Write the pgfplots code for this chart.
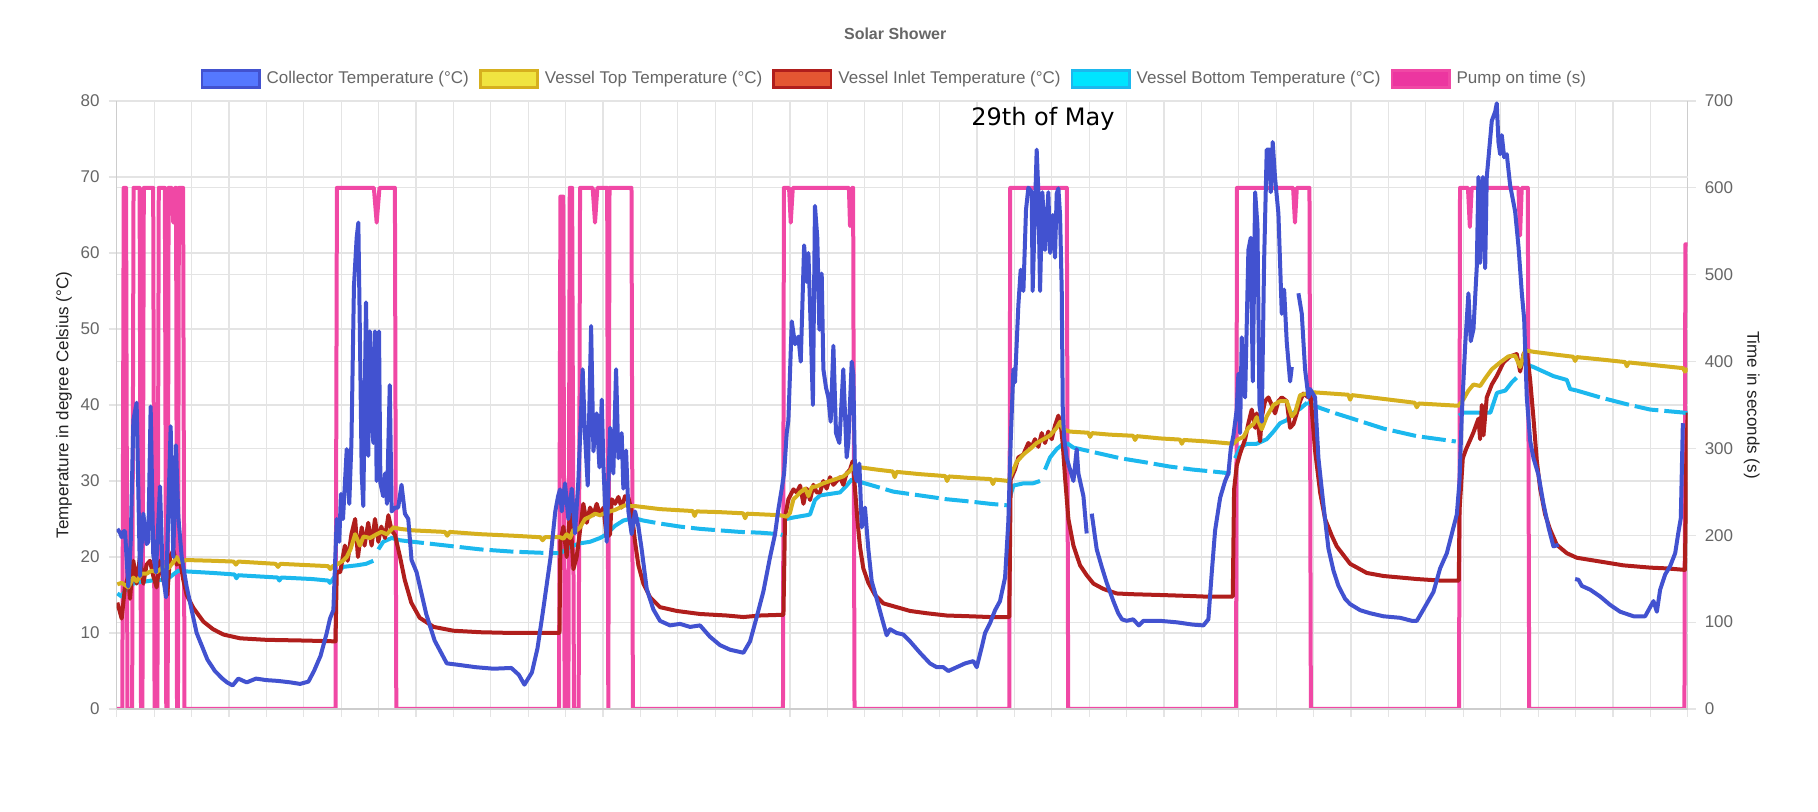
\documentclass[border=0pt]{standalone}
\usepackage{pgfplots}
\pgfplotsset{compat=1.18}
\usepackage{fontspec}
\setmainfont{Liberation Sans}
\newfontfamily\annofont{DejaVu Sans}
\definecolor{cBlue}{RGB}{66,82,208}
\definecolor{cBlueL}{RGB}{85,120,255}
\definecolor{cYel}{RGB}{214,176,30}
\definecolor{cYelL}{RGB}{240,228,64}
\definecolor{cRed}{RGB}{176,30,28}
\definecolor{cRedL}{RGB}{228,86,50}
\definecolor{cCyan}{RGB}{28,184,238}
\definecolor{cCyanL}{RGB}{0,228,255}
\definecolor{cPink}{RGB}{240,72,165}
\definecolor{cPinkL}{RGB}{236,54,160}
\definecolor{gridc}{RGB}{228,228,228}
\definecolor{axc}{RGB}{205,205,205}
\definecolor{tickc}{RGB}{102,102,102}
\definecolor{labc}{RGB}{34,34,34}
\newcommand\tfont{\fontsize{8.5}{10}\selectfont}
\pgfplotsset{
  base/.style={
    at={(58.35pt,51.5pt)}, anchor=south west,
    width=785.5pt, height=304pt, scale only axis,
    xmin=0, xmax=168, xtick={0,4,...,168}, xticklabels={},
    tick align=outside, major tick length=4pt,
    tick style={gridc, line width=0.6pt},
    axis line style={axc, line width=0.7pt},
    ticklabel style={font=\tfont, text=tickc},
    /pgf/number format/assume math mode=true,
    unbounded coords=jump,
    label style={font=\tfont, text=labc},
  }
}
\begin{document}
\begin{tikzpicture}
\path[use as bounding box] (0,0) rectangle (909pt,406pt);
% ---------------- pump axis (right) ----------------
\begin{axis}[base,
  ymin=0, ymax=700, ytick={0,100,...,700},
  axis y line*=right, axis x line*=bottom,
  grid=major, major grid style={gridc, line width=0.6pt},
  extra y ticks={87.5,175,262.5,350,437.5,525,612.5},
  extra y tick labels={},
  extra y tick style={grid=major, major tick length=0pt},
  yticklabel shift=1pt,
  ylabel={Time in seconds (s)},
  ylabel style={at={(axis description cs:1.0407,0.5)}, anchor=center, rotate=180},
]
\addplot[cPink, line width=2pt, line join=round] coordinates {
(0,0)(0.6,0)(0.75,600)(1.0,600)(1.15,0)(1.65,0)(1.8,600)(2.45,600)(2.6,0)(2.75,0)(2.9,600)(3.9,600)(4.05,0)(4.35,0)(4.5,600)(5.15,600)(5.3,0)(5.45,0)(5.55,600)(5.9,600)(6.05,560)(6.2,600)(6.35,600)(6.45,0)(6.55,0)(6.65,600)(7.1,600)(7.25,0)
(23.4,0)(23.55,600)(27.5,600)(27.8,560)(28.1,600)(29.75,600)(29.9,0)
(47.3,0)(47.45,590)(47.75,590)(47.9,0)(48.3,0)(48.45,600)(48.7,600)(48.9,0)(49.4,0)(49.55,600)(50.9,600)(51.15,560)(51.4,600)(52.45,600)(52.57,0)(52.7,600)(55.05,600)(55.2,0)
(71.25,0)(71.35,600)(71.9,600)(72.08,560)(72.3,600)(78.3,600)(78.42,556)(78.6,600)(78.75,600)(78.9,0)
(95.45,0)(95.55,600)(101.6,600)(101.75,0)
(119.7,0)(119.8,600)(125.8,600)(126.0,560)(126.2,600)(127.55,600)(127.7,0)
(143.55,0)(143.65,600)(144.5,600)(144.7,555)(144.9,600)(149.9,600)(150.07,545)(150.25,600)(150.9,600)(151.05,0)
(167.65,0)(167.75,535)(168,535)
};
\end{axis}
% ---------------- temperature axis (left) ----------------
\begin{axis}[base,
  ymin=0, ymax=80, ytick={0,10,...,80},
  axis y line*=left, axis x line*=bottom,
  yticklabel shift=1pt,
  ylabel={Temperature in degree Celsius (°C)},
  ylabel style={at={(axis description cs:-0.0336,0.5)}, anchor=center},
  legend style={at={(0.4956,1.0362)}, anchor=center, draw=none, fill=none,
    font=\tfont, text=tickc, legend columns=5,
    /tikz/every odd column/.append style={column sep=1pt},
    /tikz/every even column/.append style={column sep=3pt}},
]
% Vessel Bottom (solid parts)
\addplot[cCyan, line width=2pt, line join=round, forget plot] coordinates {
(0.07,15.2)(0.53,14.8)(1.07,16)(1.78,16.5)(2.49,16.7)(3.2,16.8)(4.27,17)(5.34,17)(6.05,17.7)(6.59,18.2)(7.48,18.1)(10.3,17.9)(12.6,17.7)(12.8,17.2)(13.0,17.6)(17.2,17.3)(17.4,16.9)(17.6,17.3)(20.9,17.1)(22.6,16.9)(22.8,16.6)(23.0,16.9)(23.53,17.8)(24.2,18.7)(25.66,18.9)(26.66,19.1)(27.44,19.5)(27.6,nan)(27.98,21)(28.5,22)(29.4,22.5)(30.3,22.2)(30.5,nan)
(47.41,20.5)(48.12,21)(48.84,21.5)(49.55,21.8)(50.62,22)(51.69,22.5)(52.4,23)(53.29,24.1)(54.18,24.8)(54.89,25)(55.1,25.2)(55.3,nan)
(71.6,25)(72.37,25.2)(73.79,25.5)(74.14,25.6)(74.67,27.5)(75.21,28.1)(76.28,28.3)(77.35,28.5)(78.06,29.4)(78.6,30.2)(79.13,30)(79.3,nan)
(95.55,28)(95.89,29.4)(97.0,29.7)(98.0,29.7)(98.74,30)(99.0,nan)(99.27,31.5)(99.81,33.1)(100.52,34.2)(101.2,34.9)(101.6,35.0)(101.8,nan)
(119.6,33)(120.13,34.4)(120.84,34.9)(121.91,34.9)(122.98,35.5)(123.7,36.5)(124.4,37.6)(125.12,38)(125.84,39)(126.55,39.5)(127.3,40.3)(127.5,nan)
(143.55,38.6)(144.0,39)(146.9,39)(147.6,41.6)(148.5,41.9)(149.2,43)(149.7,43.6)(149.9,nan)(150.26,45.6)(150.8,45.3)(151.5,45)(153.64,43.8)(155.07,43.3)(155.43,42.1)(156.14,41.9)
};
% Vessel Bottom (parts with gaps in the data)
\addplot[cCyan, line width=2pt, dash pattern=on 12pt off 3pt, forget plot] coordinates {
(30.3,22.2)(31.7,22.0)(35.3,21.5)(38.9,21.0)(42.4,20.7)(46.6,20.5)(47.41,20.5)(47.5,nan)
(55.1,25.2)(56.3,24.8)(58.1,24.4)(60.24,24.0)(62.38,23.7)(64.52,23.5)(66.66,23.3)(68.8,23.2)(70.9,23.0)(71.2,22.9)(71.3,nan)
(79.13,30)(80.56,29.5)(83.05,28.6)(85.9,28.1)(88.76,27.6)(91.25,27.3)(93.39,27)(95.2,26.8)(95.3,nan)
(101.6,35)(102.3,34.4)(104.45,33.8)(107.3,33)(109.8,32.5)(112.6,31.9)(115.1,31.5)(117.6,31.2)(119.1,31)(119.2,nan)
(127.3,40.3)(128.7,39.6)(130.1,39)(131.9,38.3)(135.46,36.9)(139.03,35.9)(143.2,35.2)(143.3,nan)
(156.14,41.9)(158.64,41)(161.49,40.1)(163.98,39.4)(167.55,39)(168,38.9)
};
% Vessel Inlet
\addplot[cRed, line width=2pt, line join=round, forget plot] coordinates {
(0.07,14)(0.53,11.9)(0.89,16.1)(1.24,17.5)(1.42,14.5)(1.78,19.5)(2.13,16.5)(2.49,20.1)(2.85,16.5)(3.2,19)(3.56,19.5)(3.91,17.5)(4.27,16)(4.63,19.5)(4.99,17)(5.41,15)(5.7,20)(6.05,20.9)(6.41,19)(6.77,19.5)(7.12,17)(7.48,15)(8.2,13.3)(9.27,11.5)(10.3,10.5)(11.4,9.8)(13.2,9.3)(16.0,9.1)(20.3,9.0)(23.4,8.9)
(23.53,18)(23.9,18)(24.4,21.5)(24.7,19.5)(25.1,23)(25.5,25)(25.8,20)(26.2,23.9)(26.5,21.5)(26.9,24.5)(27.26,21.5)(27.62,25)(27.98,22)(28.3,24)(28.7,22.5)(29.05,25.5)(29.4,23.5)(29.76,22.9)(30.3,20)(30.8,17)(31.5,14)(32.4,12)(33.9,10.8)(36.0,10.3)(38.9,10.1)(42.4,10.0)(47.35,10.0)
(47.45,22)(47.77,24)(48.12,20)(48.48,26)(48.84,18.4)(49.19,20)(49.55,23.5)(49.9,27)(50.26,24.5)(50.62,26.5)(50.98,25.5)(51.33,27)(51.69,25.5)(52.05,26.5)(52.4,22.6)(52.76,23)(52.94,27.6)(53.29,27)(53.65,27.9)(54.0,26.5)(54.36,28)(54.72,27.8)(55.07,26)(55.43,22)(55.79,18.9)(56.32,16.5)(57.04,14.7)(58.1,13.4)(59.89,12.9)(62.38,12.5)(65.24,12.3)(67.02,12.1)(68.8,12.3)(71.3,12.4)
(71.47,25.2)(71.83,27.6)(72.37,28.9)(72.72,28.5)(73.08,29.4)(73.44,27)(73.79,29)(74.15,27.5)(74.5,29.5)(74.85,28.5)(75.21,28.5)(75.57,30)(75.92,29)(76.28,30.5)(76.64,29.5)(77.0,30)(77.35,30.5)(77.7,29.5)(78.06,31)(78.42,31.5)(78.7,32.6)(78.95,29)(79.2,25)(79.49,21.3)(79.84,18.5)(80.38,16.6)(81.09,15)(81.98,13.9)(83.41,13.4)(84.84,12.9)(86.62,12.6)(88.76,12.3)(91.25,12.2)(93.39,12.1)(95.45,12.1)
(95.6,30.2)(96.06,31.5)(96.42,33.1)(96.96,33.5)(97.49,35)(97.85,34.5)(98.2,35.5)(98.56,34.5)(98.92,36.3)(99.27,35)(99.63,36.5)(99.99,35.5)(100.34,37.3)(100.7,38.6)(100.95,37.5)(101.16,35)(101.41,30.5)(101.77,25)(102.31,21.5)(103.02,18.9)(103.73,17.6)(104.45,16.5)(105.51,15.8)(106.94,15.2)(108.72,15.1)(111.58,15)(114.07,14.9)(116.21,14.8)(119.35,14.8)
(119.49,28.9)(119.77,32)(120.13,33.6)(120.67,35.5)(121.02,37.6)(121.38,39.4)(121.74,37)(121.91,38.9)(122.27,35.2)(122.45,38.4)(122.8,40.5)(123.16,41)(123.52,40)(123.87,38.9)(124.23,40.5)(124.59,41)(125.12,40.5)(125.48,37)(125.84,37.5)(126.19,38.9)(126.55,40.5)(126.9,41.5)(127.44,41)(127.62,42)(128.15,34)(128.69,28.5)(129.22,25)(129.94,22.8)(130.47,21.4)(131.9,19.1)(133.68,17.9)(135.46,17.5)(137.25,17.3)(139.03,17.1)(141.52,16.9)(143.52,16.9)
(143.6,26.2)(143.95,33)(144.3,34.2)(144.7,35.3)(145.09,36.4)(145.44,37.6)(145.62,38.2)(145.8,35.5)(145.98,40)(146.16,36)(146.51,41)(147.05,42.7)(147.58,43.8)(148.3,45.6)(149.01,46.4)(149.72,46.7)(150.08,44.4)(150.44,46.7)(150.79,47.2)(151.15,43.3)(151.51,38.2)(151.86,32.7)(152.22,29)(152.75,25.6)(153.29,23.6)(154.0,21.6)(155.07,20.5)(156.14,19.9)(158.64,19.4)(161.13,18.9)(164.0,18.6)(165.77,18.5)(167.7,18.3)(167.85,33)(168,39)
};
% Vessel Top
\addplot[cYel, line width=2pt, line join=round, forget plot] coordinates {
(0.07,16.4)(0.53,16.6)(1.24,16)(1.78,17.3)(2.13,16.8)(2.67,17.8)(3.2,17.8)(3.74,18.2)(4.27,18)(4.99,18.7)(5.52,18.5)(6.05,19.3)(6.41,20)(6.77,19.3)(7.48,19.6)(10.3,19.5)(12.5,19.4)(12.75,19.0)(13.0,19.4)(17.0,19.1)(17.25,18.7)(17.5,19.1)(20.9,18.9)(22.6,18.8)(22.85,18.4)(23.1,18.8)
(23.53,19)(24.2,19.5)(24.6,20)(25.0,21)(25.5,23)(26.0,21.5)(26.4,22.7)(27.1,22.5)(27.8,23)(28.3,23.3)(28.9,23)(29.6,23.9)(30.3,23.7)(31.7,23.5)(35.1,23.3)(35.35,22.8)(35.6,23.3)(38.9,23.0)(42.4,22.8)(45.3,22.6)(45.55,22.2)(45.8,22.6)
(47.41,22.6)(47.77,22.4)(48.12,23)(48.48,22.5)(48.84,23.6)(49.19,23.5)(49.55,23.9)(50.08,25)(50.62,25.3)(51.15,25.7)(51.69,25.5)(52.22,25.8)(52.76,26)(53.29,26.2)(53.82,26.5)(54.36,26.8)(54.89,26.7)(55.43,26.7)(58.1,26.3)(61.6,26.05)(61.8,25.4)(62.0,26.0)(64.5,25.9)(67.0,25.75)(67.2,25.1)(67.4,25.7)(70.9,25.5)(71.65,25.3)
(72.0,25.8)(72.37,27.6)(72.72,28)(73.08,28.5)(73.62,29)(73.97,28)(74.33,29.2)(74.85,29.3)(75.57,29.7)(76.28,30)(77.0,30.3)(77.7,30.6)(78.42,31.3)(78.77,32)(79.49,31.8)(81.27,31.5)(83.0,31.25)(83.2,30.5)(83.4,31.2)(85.9,30.9)(88.6,30.65)(88.8,30.0)(89.0,30.6)(91.25,30.4)(93.5,30.25)(93.7,29.6)(93.9,30.2)(95.35,30)
(95.71,31)(96.24,32.5)(96.96,33.5)(97.67,34.2)(98.38,35)(99.1,35.5)(99.81,36)(100.52,37)(100.88,37.8)(101.2,36.8)(101.95,36.5)(103.9,36.35)(104.1,35.8)(104.3,36.3)(106.2,36.1)(108.7,35.95)(108.9,35.4)(109.1,35.9)(111.6,35.6)(113.7,35.45)(113.9,34.9)(114.1,35.4)(116.6,35.2)(119.4,34.9)
(119.95,35.5)(120.49,35.8)(121.02,37)(121.56,37.5)(121.91,38.4)(122.45,36.8)(122.98,38.5)(123.7,40)(124.4,40.5)(125.12,40.5)(125.66,38.5)(126.01,39)(126.55,41.3)(127.26,41.5)(127.62,41.7)(131.7,41.35)(131.9,40.7)(132.1,41.3)(135.46,40.8)(138.8,40.3)(139.03,39.7)(139.25,40.2)(143.48,39.9)
(143.99,40.7)(144.55,41.9)(145.09,42.7)(145.8,42.5)(146.34,43.5)(147.05,44.7)(147.94,45.6)(148.83,46.4)(149.54,46.5)(150.08,45)(150.61,47.2)(151.51,47)(154.07,46.6)(155.75,46.35)(155.96,45.8)(156.15,46.3)(158.64,46.0)(161.3,45.65)(161.49,45.1)(161.7,45.6)(164,45.3)(167.5,44.85)(167.7,44.4)(168,44.8)
};
% Collector
\addplot[cBlue, line width=2pt, line join=round, forget plot] coordinates {
(0.07,23.7)(0.35,23.2)(0.53,22.6)(0.75,23.4)(0.89,23.4)(1.24,16.1)(1.5,22)(1.78,38)(2.13,40.3)(2.49,17.5)(2.85,25.7)(3.2,21.7)(3.38,22)(3.63,39.8)(3.91,20.3)(4.2,18)(4.63,29.3)(4.91,18)(5.27,14.7)(5.77,37.2)(6.05,20)(6.34,34.7)(6.59,25.3)(6.95,20)(7.48,16.1)(8.02,13)(8.55,10)(9.7,6.5)(10.5,5)(11.3,4)(11.8,3.5)(12.4,3.1)(13.0,4)(13.9,3.5)(14.9,4)(16.0,3.8)(17.2,3.7)(18.6,3.5)(19.6,3.3)(20.5,3.6)(21.1,5)(21.8,7)(22.46,10)(22.81,11.9)(23.17,13)
(23.53,25)(23.8,22)(23.98,28.3)(24.2,25)(24.6,34.2)(24.87,27)(25.1,35)(25.37,55.6)(25.66,62)(25.84,64)(26.0,50)(26.2,31)(26.37,26.7)(26.66,53.5)(26.9,33.3)(27.08,49.7)(27.44,35)(27.62,49.7)(27.8,30)(28.05,49.7)(28.2,29.7)(28.5,28)(28.7,31)(28.9,27)(29.2,42.6)(29.4,26)(29.76,26.5)(30.1,26.5)(30.46,29.5)(30.82,25.7)(31.18,25)(31.53,19.6)(32.07,18)(33.1,12.5)(34.0,9)(35.3,6)(36.6,5.8)(38.4,5.5)(40.3,5.3)(42.2,5.4)(43.0,4.5)(43.6,3.2)(44.4,4.8)(45.0,8)(45.6,13)(46.4,20)(46.9,26)(47.2,28)
(47.41,28.9)(47.59,26)(47.94,29.7)(48.3,25)(48.66,29)(49.01,23.1)(49.37,30)(49.83,44.7)(50.08,36)(50.37,29.4)(50.73,50.4)(50.98,33.9)(51.33,38.9)(51.62,31.8)(51.87,40.7)(52.05,32)(52.4,22)(52.76,37)(53.11,31)(53.4,44.7)(53.65,33)(54.0,36.3)(54.18,29)(54.47,34)(54.72,26)(55.07,23)(55.43,26)(55.79,24)(56.14,21)(56.68,15.8)(57.39,13.1)(58.1,11.6)(59.17,11)(60.24,11.2)(61.31,10.8)(62.38,11)(63.45,9.5)(64.52,8.4)(65.59,7.8)(67.02,7.4)(67.73,8.9)(68.44,12.1)(69.16,15.5)(69.87,20)(70.4,23)(70.76,26.3)(71.12,29)(71.37,31)
(71.65,36.3)(71.83,38)(72.19,51)(72.54,48)(72.9,49)(73.15,45.7)(73.51,61)(73.79,56.2)(73.97,60)(74.22,50)(74.45,40)(74.67,66.2)(74.92,62)(75.14,49.9)(75.39,57.3)(75.57,44.7)(75.85,42.3)(76.1,41)(76.35,37.8)(76.64,47.8)(76.92,36.3)(77.28,35)(77.7,44.7)(78.06,33.1)(78.24,35)(78.6,45.7)(78.77,44)(78.95,31)(79.13,30)(79.42,32.3)(79.67,23.9)(80.02,26.5)(80.38,21)(80.74,16.8)(81.27,14.5)(81.8,12.1)(82.34,9.7)(82.7,10.5)(83.41,10)(84.12,9.8)(84.84,8.9)(85.9,7.4)(86.97,6)(87.69,5.5)(88.4,5.5)(88.93,5)(89.83,5.5)(90.72,6)(91.61,6.3)(91.97,5.5)(92.5,8.1)(92.86,10)(93.39,11.3)(93.93,13)(94.46,14.2)(95.0,17.3)(95.35,24.7)
(95.6,35.2)(95.89,44.7)(96.06,43)(96.42,53.1)(96.67,57.8)(96.96,55)(97.24,65.7)(97.49,68.6)(97.85,68)(97.95,55)(98.38,73.6)(98.56,68)(98.74,55)(98.99,68)(99.27,60.4)(99.63,68)(99.81,60)(100.1,65)(100.34,59.4)(100.52,67.8)(100.7,68.5)(100.88,65)(101.06,55)(101.17,39.4)(101.31,35.7)(101.59,33)(101.95,31.5)(102.31,30)(102.48,32)(102.66,34.2)(102.84,31)(103.38,28)(103.73,23.1)(103.9,nan)
(104.27,25.7)(104.8,21)(105.34,18.7)(105.87,16.6)(106.58,14.2)(107.1,12.6)(107.5,11.8)(108.0,11.6)(108.7,11.8)(109.3,11)(109.8,11.6)(111.6,11.6)(113.4,11.4)(115.1,11.1)(116.21,11)(116.74,11.8)(117.1,17.9)(117.46,23.5)(118.0,27.8)(118.53,30)(118.88,31)(119.13,34.2)(119.42,36)
(119.77,39.4)(119.95,44.1)(120.13,36.3)(120.31,48.9)(120.49,42.6)(120.67,41)(121.02,60.4)(121.27,62)(121.49,43.1)(121.74,68)(121.99,63.6)(122.2,40)(122.45,37.8)(122.7,58.9)(122.98,73.6)(123.27,73.6)(123.41,68)(123.62,74.6)(123.87,69.9)(124.23,65.2)(124.59,52)(124.84,55.2)(125.12,48.3)(125.48,43.1)(125.66,45)(125.9,nan)
(126.37,54.7)(126.73,52)(127.08,44.7)(127.44,41)(127.62,42.1)(128.15,41)(128.51,33)(129.05,26.8)(129.58,21.1)(130.12,18.2)(130.65,16.2)(131.36,14.5)(131.9,13.8)(132.97,13)(134.04,12.6)(135.46,12.2)(137.25,12)(138.5,11.6)(139.03,11.6)(139.74,13.1)(140.81,15.4)(141.52,18.5)(142.24,20.5)(142.95,23.9)(143.31,25.6)(143.59,29.9)
(143.84,38.7)(144.2,47.8)(144.55,54.7)(144.8,48.4)(145.09,50)(145.44,58.1)(145.62,70)(145.8,58.7)(146.09,70)(146.34,58)(146.51,70)(147.05,77.4)(147.41,78.6)(147.58,79.7)(147.76,74.6)(147.94,73)(148.12,75.5)(148.37,72.6)(148.65,73)(149.01,68.9)(149.54,65.5)(149.9,60.9)(150.26,54.7)(150.51,51.3)(150.79,41)(151.15,35.3)(151.51,33)(152.04,30.8)(152.57,27)(153.11,23.9)(153.64,21.4)(154.18,21.6)(155,nan)
(155.96,17.1)(156.32,17)(156.67,16.2)(157.57,15.7)(158.64,14.8)(159.7,13.7)(160.77,12.8)(161.49,12.5)(162.2,12.2)(162.91,12.2)(163.45,12.2)(163.98,13.4)(164.34,14.2)(164.7,12.8)(165.05,15.7)(165.59,17.7)(166.12,18.8)(166.66,20.5)(167.01,23.3)(167.26,25.1)(167.48,37.6)
};
\addlegendimage{legend image code/.code={\draw[line width=1.3pt, draw=cBlue, fill=cBlueL] (0pt,-4.2pt) rectangle (28.7pt,4.2pt);}}
\addlegendentry{Collector Temperature (°C)}
\addlegendimage{legend image code/.code={\draw[line width=1.3pt, draw=cYel, fill=cYelL] (0pt,-4.2pt) rectangle (28.7pt,4.2pt);}}
\addlegendentry{Vessel Top Temperature (°C)}
\addlegendimage{legend image code/.code={\draw[line width=1.3pt, draw=cRed, fill=cRedL] (0pt,-4.2pt) rectangle (28.7pt,4.2pt);}}
\addlegendentry{Vessel Inlet Temperature (°C)}
\addlegendimage{legend image code/.code={\draw[line width=1.3pt, draw=cCyan, fill=cCyanL] (0pt,-4.2pt) rectangle (28.7pt,4.2pt);}}
\addlegendentry{Vessel Bottom Temperature (°C)}
\addlegendimage{legend image code/.code={\draw[line width=1.3pt, draw=cPink, fill=cPinkL] (0pt,-4.2pt) rectangle (28.7pt,4.2pt);}}
\addlegendentry{Pump on time (s)}
\node[font=\annofont\fontsize{12}{14}\selectfont, text=black] at (axis cs:99.06,77.6) {29th of May};
\end{axis}
\node[font=\bfseries\fontsize{8}{10}\selectfont, text=tickc] at (447.6pt,389.25pt) {Solar Shower};
\end{tikzpicture}
\end{document}
